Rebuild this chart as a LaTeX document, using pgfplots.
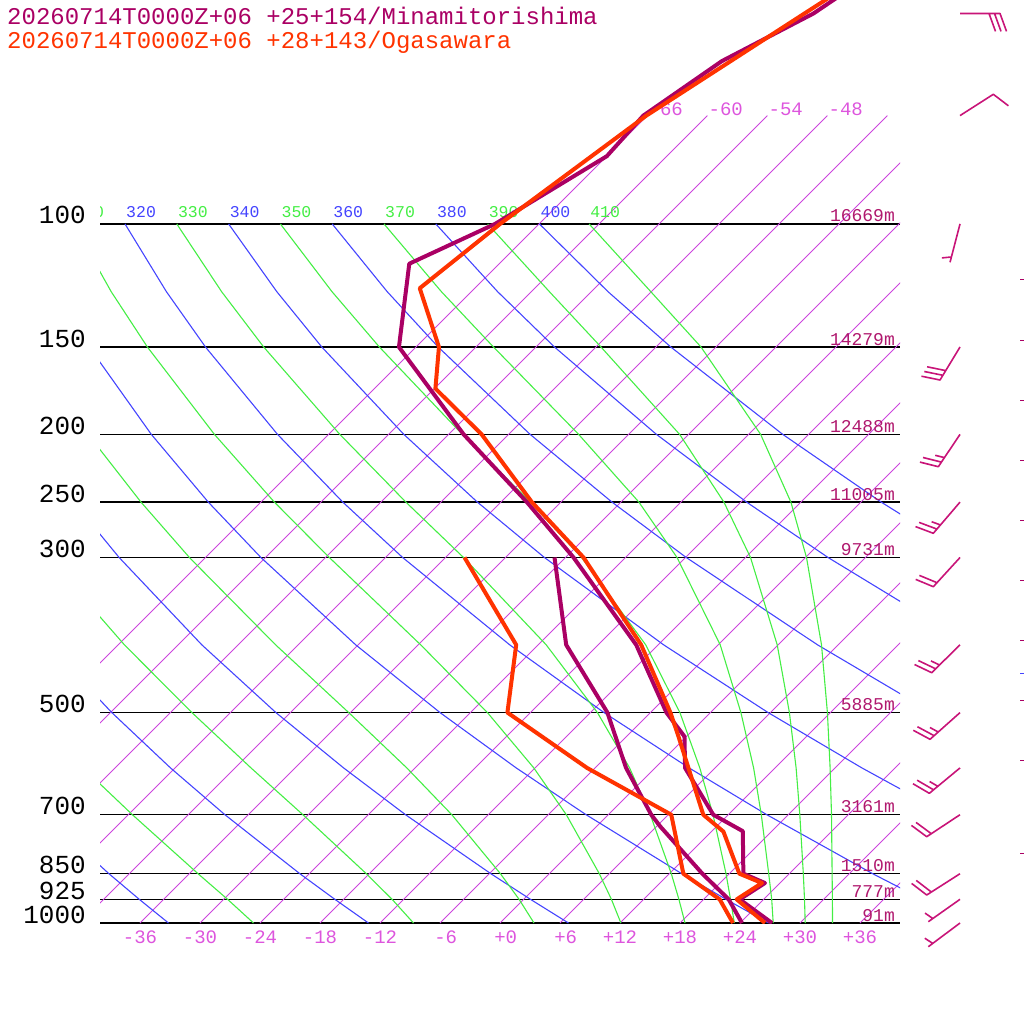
\documentclass[border=0pt]{standalone}
\usepackage{fontspec}
\setmainfont{Liberation Mono}
\usepackage{pgfplots}
\pgfplotsset{compat=1.18}
\usepackage{pgfplotstable}

\definecolor{mpur}{RGB}{170,0,100}
\definecolor{mora}{RGB}{255,51,0}
\definecolor{isoc}{RGB}{204,68,221}
\definecolor{isol}{RGB}{221,85,221}
\definecolor{dryc}{RGB}{68,68,255}
\definecolor{moic}{RGB}{68,238,68}
\definecolor{hgt}{RGB}{176,24,110}
\definecolor{barbc}{RGB}{200,20,120}

% Minamitorishima temperature
\pgfplotstableread{
p T
1000 27.2
925 21.6
876.6 22.5
850 19.4
739 15.1
700 10.5
600 3.0
541 -0.2
500 -4.4
400 -14.2
300 -29.2
250 -39.4
200 -52.5
150 -67.7
114 -75.0
100 -70.4
80 -66.0
70 -66.4
58.5 -64.0
50 -59.6
35 -54.4
}\minT
% Minamitorishima dew point
\pgfplotstableread{
p T
1000 24.2
925 20.5
850 15.3
728 6.4
700 4.3
600 -2.9
541 -7.1
500 -10.3
400 -21.2
300 -31.1
}\minTd
% Ogasawara temperature
\pgfplotstableread{
p T
1000 26.5
925 21.3
876.6 22.2
850 19.0
740 13.2
700 9.5
541 -0.8
500 -4.0
400 -13.7
300 -28.2
250 -38.9
200 -50.7
172 -59.9
150 -63.7
123.6 -71.5
100 -69.9
70 -66.1
50 -60.5
35 -54.5
}\ogaT
% Ogasawara dew point
\pgfplotstableread{
p T
1000 23.3
925 19.6
850 13.4
700 6.3
600 -6.8
500 -20.3
400 -26.2
300 -40.1
}\ogaTd

\begin{document}
\begin{tikzpicture}[x=1pt,y=1pt]
\useasboundingbox (0,0) rectangle (1024,1024);
\begin{axis}[
  at={(100pt,101pt)}, anchor=south west,
  scale only axis, width=800pt, height=923pt,
  xmin=-40, xmax=40,
  ymode=log, y dir=reverse, ymin=47.83, ymax=1000,
  axis line style={draw=none}, tick style={draw=none},
  major tick length=0pt,
  xtick={-36,-30,...,36},
  xticklabels={-36,-30,-24,-18,-12,\phantom{0}-6,\phantom{0}+0,\phantom{0}+6,+12,+18,+24,+30,+36},
  xticklabel style={font=\fontsize{19}{19}\selectfont, text=isol, anchor=base, inner sep=0pt, yshift=-20pt},
  ytick={100,150,200,250,300,500,700,850,925,1000},
  yticklabels={100,150,200,250,300,500,700,850,925,1000},
  yticklabel style={font=\fontsize{26}{26}\selectfont, text=black, anchor=base east, inner sep=0pt, xshift=-14pt},
  ymajorgrids, grid style={black, line width=1.3pt},
  minor tick num=0,
]
% isotherms
\pgfplotsset{iso/.style={isoc, line width=0.9pt}, dry/.style={dryc, line width=1.1pt}, moi/.style={moic, line width=1.1pt}}
\addplot[iso] coordinates {(-66,1000) (14.74,70)};
\addplot[iso] coordinates {(-60,1000) (20.74,70)};
\addplot[iso] coordinates {(-54,1000) (26.74,70)};
\addplot[iso] coordinates {(-48,1000) (32.74,70)};
\addplot[iso] coordinates {(-42,1000) (38.74,70)};
\addplot[iso] coordinates {(-36,1000) (44.74,70)};
\addplot[iso] coordinates {(-30,1000) (50.74,70)};
\addplot[iso] coordinates {(-24,1000) (56.74,70)};
\addplot[iso] coordinates {(-18,1000) (62.74,70)};
\addplot[iso] coordinates {(-12,1000) (68.74,70)};
\addplot[iso] coordinates {(-6,1000) (74.74,70)};
\addplot[iso] coordinates {(0,1000) (80.74,70)};
\addplot[iso] coordinates {(6,1000) (86.74,70)};
\addplot[iso] coordinates {(12,1000) (92.74,70)};
\addplot[iso] coordinates {(18,1000) (98.74,70)};
\addplot[iso] coordinates {(24,1000) (104.74,70)};
\addplot[iso] coordinates {(30,1000) (110.74,70)};
\addplot[iso] coordinates {(36,1000) (116.74,70)};
% dry adiabats
\addplot[dry] coordinates {(-33.15,1000) (-36.07,925) (-39.11,850) (-45.57,700)};
\addplot[dry] coordinates {(-13.15,1000) (-16.51,925) (-20.02,850) (-27.51,700) (-32.95,600) (-38.82,500) (-45.21,400)};
\addplot[dry] coordinates {(6.85,1000) (3.05,925) (-0.92,850) (-9.45,700) (-15.64,600) (-22.41,500) (-29.82,400) (-38.09,300) (-42.63,250)};
\addplot[dry] coordinates {(26.85,1000) (22.61,925) (18.17,850) (8.61,700) (1.62,600) (-6.0,500) (-14.43,400) (-23.91,300) (-29.17,250) (-34.87,200) (-41.08,150)};
\addplot[dry] coordinates {(46.85,1000) (37.26,850) (26.68,700) (18.91,600) (10.40,500) (0.97,400) (-9.74,300) (-15.72,250) (-22.25,200) (-29.45,150) (-33.36,125) (-37.50,100)};
\addplot[dry] coordinates {(66.85,1000) (56.35,850) (44.74,700) (36.19,600) (26.81,500) (16.36,400) (4.44,300) (-2.26,250) (-9.62,200) (-17.82,150) (-22.32,125) (-27.14,100)};
\addplot[dry] coordinates {(86.85,1000) (75.45,850) (62.80,700) (53.48,600) (43.21,500) (31.75,400) (18.62,300) (11.20,250) (3.01,200) (-6.18,150) (-11.28,125) (-16.78,100)};
\addplot[dry] coordinates {(106.85,1000) (94.54,850) (80.86,700) (70.76,600) (59.62,500) (47.15,400) (32.80,300) (24.66,250) (15.64,200) (5.45,150) (-0.24,125) (-6.42,100)};
\addplot[dry] coordinates {(126.85,1000) (113.63,850) (98.92,700) (88.04,600) (76.03,500) (62.54,400) (46.98,300) (38.12,250) (28.27,200) (17.08,150) (10.80,125) (3.94,100)};
% moist adiabats
\addplot[moi] coordinates {(-24.65,1000) (-27.24,925) (-30.2,850) (-36.76,700) (-41.68,600)};
\addplot[moi] coordinates {(-8.65,1000) (-10.79,925) (-13.37,850) (-19.71,700) (-24.9,600) (-30.81,500) (-37.56,400) (-45.18,300)};
\addplot[moi] coordinates {(3.4,1000) (1.91,925) (0.04,850) (-4.82,700) (-9.32,600) (-15.13,500) (-22.44,400) (-31.06,300) (-35.9,250) (-41.19,200)};
\addplot[moi] coordinates {(12.09,1000) (11.14,925) (9.93,850) (6.63,700) (3.38,600) (-1.26,500) (-7.93,400) (-17.07,300) (-22.56,250) (-28.56,200) (-35.26,150) (-38.88,125) (-42.68,100)};
\addplot[moi] coordinates {(18.5,1000) (17.89,925) (17.13,850) (15.03,700) (12.96,600) (9.74,500) (4.62,400) (-3.65,300) (-9.41,250) (-16.02,200) (-23.63,150) (-27.84,125) (-32.32,100)};
\addplot[moi] coordinates {(23.43,1000) (23.05,925) (22.60,850) (21.30,700) (19.98,600) (17.99,500) (14.57,400) (8.15,300) (3.04,250) (-3.77,200) (-12.06,150) (-16.8,125) (-21.96,100)};
\addplot[moi] coordinates {(27.32,1000) (27.17,925) (26.87,850) (26.13,700) (25.36,600) (24.09,500) (22.02,400) (17.70,300) (13.89,250) (7.86,200) (-0.65,150) (-5.86,125) (-11.6,100)};
\addplot[moi] coordinates {(30.52,1000) (30.45,925) (30.33,850) (29.98,700) (29.61,600) (28.94,500) (27.72,400) (25.05,300) (22.39,250) (17.96,200) (10.1,150) (4.94,125) (-1.24,100)};
\addplot[moi] coordinates {(33.25,1000) (33.24,925) (33.21,850) (33.15,700) (33.01,600) (32.74,500) (32.15,400) (30.65,300) (29.09,250) (26.06,200) (20.1,150) (15.08,125) (8.91,100)};
% isotherm labels
\foreach \xx/\lab in {14.74/-66,20.74/-60,26.74/-54,32.74/-48}{
  \edef\tmp{\noexpand\node[anchor=base west, inner sep=0pt, xshift=1pt, text=isol, font=\noexpand\fontsize{19}{19}\noexpand\selectfont] at (axis cs:\xx,70) {\lab};}\tmp
}
% theta labels
\foreach \xx/\lab/\col in {-42.68/310/moic,-37.5/320/dryc,-32.32/330/moic,-27.14/340/dryc,-21.96/350/moic,-16.78/360/dryc,-11.6/370/moic,-6.42/380/dryc,-1.24/390/moic,3.94/400/dryc,8.91/410/moic}{
  \edef\tmp{\noexpand\node[anchor=base west, inner sep=0pt, xshift=1pt, yshift=6pt, text=\col, font=\noexpand\fontsize{16.5}{16.5}\noexpand\selectfont] at (axis cs:\xx,100) {\lab};}\tmp
}
% height labels
\foreach \pp/\lab in {100/16669m,150/14279m,200/12488m,250/11005m,300/9731m,500/5885m,700/3161m,850/1510m,925/777m,1000/91m}{
  \edef\tmp{\noexpand\node[anchor=base east, inner sep=0pt, xshift=-5pt, yshift=2pt, text=hgt, font=\noexpand\fontsize{18}{18}\noexpand\selectfont] at (axis cs:40,\pp) {\lab};}\tmp
}
% profiles
\addplot[mpur, line width=4pt, line join=round] table[x expr=\thisrow{T}+30.36*ln(1000/\thisrow{p}), y=p]{\minTd};
\addplot[mpur, line width=4pt, line join=round] table[x expr=\thisrow{T}+30.36*ln(1000/\thisrow{p}), y=p]{\minT};
\addplot[mora, line width=4pt, line join=round] table[x expr=\thisrow{T}+30.36*ln(1000/\thisrow{p}), y=p]{\ogaTd};
\addplot[mora, line width=4pt, line join=round] table[x expr=\thisrow{T}+30.36*ln(1000/\thisrow{p}), y=p]{\ogaT};
\end{axis}

% wind barbs, in picture pixels
\begin{axis}[
  at={(0pt,0pt)}, anchor=south west,
  scale only axis, width=1024pt, height=1024pt,
  xmin=0, xmax=1024, ymin=0, ymax=1024, y dir=reverse,
  hide axis, clip=false, unbounded coords=jump,
]
\addplot[barbc, line width=1.6pt, line join=round] coordinates {
 (960,13.5) (1000,13.5) (1006.5,31.4) (nan,nan) (994.5,13.5) (1001,31.4) (nan,nan) (989,13.5) (995.5,31.4) (nan,nan)
 (960,115.6) (993.3,94.3) (1008.4,105.8) (nan,nan)
 (960,223.9) (950,262.3) (nan,nan) (951.4,257.0) (941.9,257.9) (nan,nan)
 (960,347) (940,380) (921.4,376.2) (nan,nan) (942.9,375.3) (924.3,371.5) (nan,nan) (945.7,370.6) (927.1,366.8) (nan,nan)
 (960,434.4) (938.3,466.7) (919.9,462.1) (nan,nan) (941.4,462.1) (923.0,457.5) (nan,nan) (944.4,457.6) (935.2,455.3) (nan,nan)
 (960,502.1) (933.3,533.3) (915.5,526.6) (nan,nan) (936.9,529.1) (919.1,522.4) (nan,nan) (940.5,525.0) (931.6,521.7) (nan,nan)
 (960,557.5) (933.3,586.7) (915.7,579.4) (nan,nan) (937.0,582.7) (919.4,575.4) (nan,nan)
 (960,644.8) (931.7,672.7) (914.5,664.5) (nan,nan) (935.6,668.8) (918.4,660.6) (nan,nan) (939.5,665.0) (930.9,660.9) (nan,nan)
 (960,712.6) (930,739.3) (913.3,730.3) (nan,nan) (934.1,735.7) (917.4,726.7) (nan,nan) (938.2,732.0) (929.9,727.5) (nan,nan)
 (960,767.9) (929.3,793.3) (912.9,783.7) (nan,nan) (933.5,789.8) (917.1,780.2) (nan,nan) (937.8,786.3) (929.6,781.5) (nan,nan)
 (960,814.7) (926.7,836.7) (911.4,825.4) (nan,nan) (931.3,833.7) (916.0,822.4) (nan,nan)
 (960,873.7) (926.7,895) (911.6,883.4) (nan,nan) (931.3,892.0) (916.2,880.4) (nan,nan)
 (960,899.3) (928.3,921.7) (nan,nan) (932.8,918.5) (925.0,913.1) (nan,nan)
 (960,923) (928.3,946.7) (nan,nan) (932.7,943.4) (924.8,938.2)
};
\addplot[only marks, mark=-, mark size=2pt, mpur, mark options={line width=1pt}] coordinates {
 (1022,280) (1022,340) (1022,400) (1022,460) (1022,520) (1022,580) (1022,640) (1022,700) (1022,760) (1022,853)};
\addplot[only marks, mark=-, mark size=2pt, dryc, mark options={line width=1pt}] coordinates {(1022,673)};
\end{axis}

\node[anchor=base west, inner sep=0pt, text=mpur, font=\fontsize{24}{24}\selectfont] at (7,999) {20260714T0000Z+06 +25+154/Minamitorishima};
\node[anchor=base west, inner sep=0pt, text=mora, font=\fontsize{24}{24}\selectfont] at (7,975) {20260714T0000Z+06 +28+143/Ogasawara};
\end{tikzpicture}
\end{document}
